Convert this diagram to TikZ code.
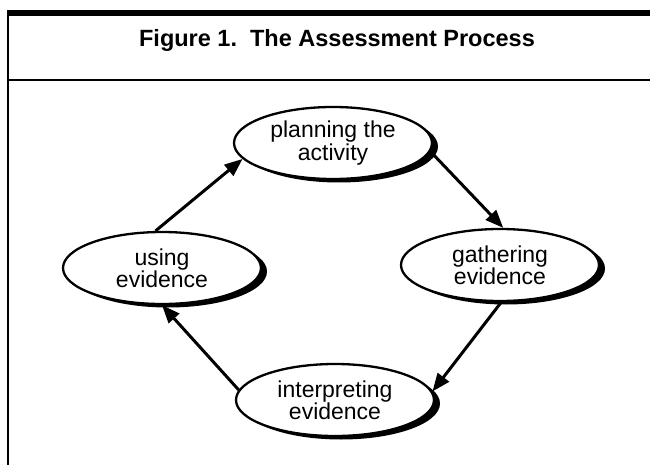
\documentclass[tikz,border=0pt]{standalone}
\usepackage{fontspec}
\setmainfont{Liberation Sans}
\usetikzlibrary{shapes.geometric,shadows,arrows.meta}

\begin{document}
\begin{tikzpicture}[x=1pt,y=-1pt,
roundnode/.style={ellipse, draw=black, fill=white, line width=2.3pt, minimum width=198pt, minimum height=72pt, inner sep=0pt, align=center, font=\fontsize{23}{19.5}\selectfont, drop shadow={shadow xshift=6pt, shadow yshift=-3.5pt, fill=black, opacity=1}},
flowarrow/.style={line width=3pt, -{Triangle[length=18pt,width=14pt]}}
]
    \useasboundingbox (0,0) rectangle (650,465);

    % frame
    \fill (7,10) rectangle (650,16);
    \draw [line width=2.5pt] (8,10) -- (8,465);
    \draw [line width=2.5pt] (8,80) -- (650,80);

    \node (t1) at (337,40) {\fontsize{23.5}{28}\selectfont\bfseries Figure 1.\ \ The Assessment Process};

    \node [roundnode] (a1) at (333,143) {planning the\\activity};
    \node [roundnode] (a2) at (500,265) {gathering\\evidence};
    \node [roundnode] (a3) at (335,400) {interpreting\\evidence};
    \node [roundnode] (a4) at (162,268) {using\\evidence};

    \draw (a4.100) edge[flowarrow] (a1.190);
    \draw (a1.-5) edge[flowarrow] (a2.85);
    \draw (a2.-88) edge[flowarrow] (a3.5);
    \draw (a3.174) edge[flowarrow] (a4.270);
\end{tikzpicture}
\end{document}
